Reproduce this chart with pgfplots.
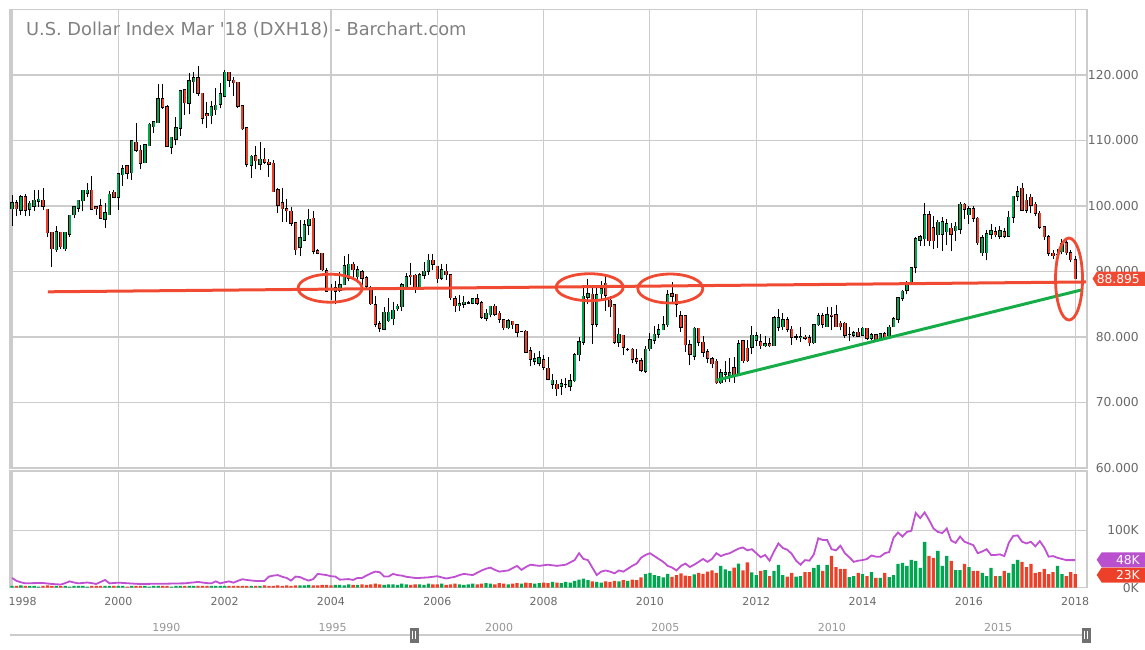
\documentclass[border=0pt]{standalone}
\usepackage{fontspec}
\setmainfont{DejaVu Sans}
\usepackage{pgfplots}
\usepackage{pgfplotstable}
\pgfplotsset{compat=1.18}

\definecolor{gridgray}{RGB}{204,204,204}
\definecolor{upgreen}{RGB}{0,166,80}
\definecolor{dnred}{RGB}{236,64,40}
\definecolor{annred}{RGB}{240,74,50}
\definecolor{anngreen}{RGB}{22,172,72}
\definecolor{avgpurple}{RGB}{192,80,210}
\definecolor{tagpurple}{RGB}{185,80,205}
\definecolor{ticktext}{RGB}{105,105,105}
\definecolor{titlegray}{RGB}{128,128,128}
\definecolor{navtext}{RGB}{150,150,150}
\definecolor{handlegray}{RGB}{112,112,112}

\newcommand\tagfont{\fontsize{12.3}{14}\selectfont}

% navigator handle
\pgfdeclareplotmark{handle}{%
  \pgfsetfillcolor{handlegray}%
  \pgfpathrectangle{\pgfpoint{-4.3pt}{-7.5pt}}{\pgfpoint{8.6pt}{15pt}}%
  \pgfusepath{fill}%
  \pgfsetstrokecolor{white}\pgfsetlinewidth{1pt}%
  \pgfpathmoveto{\pgfpoint{-1.4pt}{-4pt}}\pgfpathlineto{\pgfpoint{-1.4pt}{4pt}}%
  \pgfpathmoveto{\pgfpoint{1.4pt}{-4pt}}\pgfpathlineto{\pgfpoint{1.4pt}{4pt}}%
  \pgfusepath{stroke}%
}

% monthly candles from Jan 1998 (i=0) to Jan 2018 (i=240)
% o h l c, volume v (K), volume average a (K)
\pgfplotstableread{
i o h l c v a
0 99.6 101.7 97.0 100.5 3 17
1 100.5 100.9 98.4 99.6 3 12
2 99.4 101.7 98.6 101.4 4 9.4
3 101.4 101.9 98.4 99.4 3 7.6
4 99.5 100.7 98.5 100.4 3 7.8
5 100.0 102.4 99.3 100.9 3 8
6 100.7 102.4 99.9 101.0 2 8.1
7 100.9 102.8 99.4 100.0 3 8.2
8 99.5 99.5 95.3 95.9 4 7.3
9 96.0 96.0 90.7 93.5 3 6.5
10 93.3 96.9 93.0 96.1 3 6
11 96.0 96.0 93.5 93.8 3 5.5
12 93.5 96.0 93.2 96.0 3 8
13 95.7 98.6 95.3 98.6 2 11
14 98.7 99.9 98.1 99.9 3 9
15 99.7 100.9 99.1 100.9 3 7.6
16 100.8 102.4 99.2 102.4 3 8.3
17 102.0 103.5 101.4 102.4 2 9
18 102.4 104.6 99.4 99.5 3 8
19 99.9 99.9 98.6 99.6 3 6.5
20 100.0 101.0 98.0 98.1 3 10
21 98.0 100.4 96.7 99.0 3 13.5
22 98.7 102.3 98.6 101.8 3 7.6
23 102.1 102.4 101.3 101.3 3 8.2
24 101.3 105.0 99.4 104.9 3 8.8
25 104.8 106.3 103.1 105.7 3 8.3
26 106.1 106.3 104.1 105.0 2 7.8
27 105.1 110.1 104.0 110.0 3 7.3
28 109.7 112.6 108.3 108.5 3 6.8
29 108.5 109.3 105.6 106.5 3 6.5
30 106.6 109.5 106.5 109.3 3 6.6
31 109.2 112.6 109.1 112.5 2 6.7
32 112.1 113.0 111.2 112.9 3 6.8
33 112.7 118.7 112.7 116.4 3 6.9
34 116.4 118.6 114.8 115.1 3 7
35 115.1 115.4 109.1 109.1 3 7
36 109.0 110.5 107.9 110.5 2 7.2
37 110.2 113.6 109.3 111.9 3 7.3
38 111.9 117.7 110.7 117.6 3 7.5
39 117.7 117.8 113.9 115.8 3 7.6
40 115.7 120.3 114.0 119.1 3 8.5
41 119.0 120.4 117.3 119.6 3 9.2
42 119.6 121.3 116.8 117.2 3 10
43 117.2 117.2 112.5 113.4 3 9
44 114.1 115.9 111.9 113.8 3 8
45 113.8 116.1 112.5 115.1 3 7.6
46 114.7 118.0 113.9 115.4 3 11
47 115.5 118.8 114.9 117.1 3 7.6
48 116.8 120.8 116.7 120.4 3 9.5
49 120.4 120.5 118.2 119.2 3 11
50 119.2 119.7 116.8 118.8 3 8.8
51 118.9 119.0 114.9 115.2 3 12
52 115.3 115.4 111.6 111.8 3 14.7
53 111.9 111.9 106.0 106.4 3 13.5
54 106.2 107.8 104.2 107.6 3 12.5
55 107.7 109.2 105.6 106.9 3 11.8
56 106.4 109.8 105.5 107.1 3 11.8
57 107.1 108.8 106.4 106.7 4 11.8
58 106.7 107.1 104.5 106.4 3 19.4
59 106.5 107.0 102.2 102.2 3 21
60 102.5 102.7 99.0 100.1 4 22
61 100.5 102.7 97.6 99.6 3 19
62 99.6 101.0 97.6 99.3 4 17
63 99.2 99.8 97.0 97.4 3 12.4
64 97.4 97.4 92.5 93.3 4 19.4
65 93.7 97.9 92.3 95.1 4 18.5
66 94.8 97.9 94.6 97.1 4 15
67 97.1 99.5 95.6 98.0 5 12.4
68 98.1 99.3 92.6 93.1 4 15
69 93.2 93.5 92.6 92.8 4 24
70 92.8 92.8 90.1 90.3 5 23
71 90.1 90.6 86.9 87.0 5 22
72 87.4 88.1 85.6 87.2 4 20
73 87.0 88.5 85.0 87.5 5 19.4
74 87.1 90.0 86.8 88.0 5 14
75 88.0 92.3 87.9 90.9 4 14.5
76 89.0 92.6 88.5 91.1 6 15
77 91.1 91.5 89.0 90.3 5 13.5
78 89.2 90.8 88.2 90.3 5 17
79 90.0 90.3 88.0 89.0 6 17
80 89.0 89.3 87.5 87.8 5 21
81 87.6 87.8 84.9 85.1 6 25
82 84.9 86.3 81.5 82.0 7 28
83 82.0 82.4 80.8 81.3 6 27
84 81.2 84.6 81.0 83.8 5 19.4
85 82.5 86.0 82.3 83.8 6 19.4
86 82.8 85.3 81.8 84.1 6 24
87 84.3 85.0 84.0 84.7 5 22
88 84.6 88.3 84.0 88.0 7 21
89 87.6 89.7 87.3 89.2 6 19
90 89.4 91.3 88.0 89.2 5 18
91 89.4 89.6 86.7 87.6 6 17
92 87.7 89.8 87.3 89.5 6 17
93 89.4 91.5 88.9 90.05 5 17.5
94 90.05 92.6 89.5 91.7 7 18
95 91.7 92.6 90.2 91.1 6 19
96 90.8 90.9 88.3 88.9 6 20
97 89.0 91.2 88.7 90.3 7 18
98 90.05 91.2 88.7 89.5 5 16
99 89.5 89.5 85.7 86.0 6 17.5
100 85.8 86.2 83.8 84.8 7 19
101 84.8 86.4 84.0 85.1 6 22
102 85.0 86.3 84.5 85.3 5 24
103 85.2 85.5 85.0 85.2 6 23
104 85.2 86.0 85.0 85.8 7 22
105 85.8 86.5 84.9 85.2 6 26
106 85.2 85.5 82.8 83.0 7 30
107 82.9 84.2 82.5 83.6 8 33
108 83.4 84.8 83.0 84.7 7 35
109 84.7 85.0 83.2 83.5 6 31
110 83.6 84.0 82.2 82.7 8 28
111 82.6 82.7 81.0 81.4 7 29
112 81.4 82.8 81.2 82.5 6 30
113 82.4 82.5 81.2 81.9 7 34
114 81.9 81.9 80.0 80.7 8 38
115 80.9 80.9 80.8 80.9 7 31
116 80.9 81.0 77.5 77.7 9 36
117 77.9 78.5 75.5 76.6 8 40
118 76.3 77.6 75.7 76.7 7 39
119 76.0 77.9 75.5 76.8 8 38
120 76.5 77.3 75.0 75.4 9 39
121 75.2 77.0 73.4 73.6 8 40
122 72.8 74.3 72.1 73.4 10 39
123 72.8 73.5 71.0 72.1 9 38
124 72.5 73.6 71.2 72.9 8 39
125 72.8 73.8 72.2 72.8 10 40
126 72.5 74.3 71.8 73.3 9 44
127 73.3 77.6 73.2 77.3 12 48
128 77.3 80.0 76.3 79.3 14 60
129 79.2 87.8 78.8 86.2 16 50
130 86.1 88.8 85.0 86.6 13 48
131 86.5 87.8 79.0 82.0 11 35
132 82.0 87.8 81.5 86.4 10 22
133 86.6 88.6 85.6 87.4 9 28
134 88.2 89.3 84.0 86.4 11 30
135 85.6 86.3 83.0 84.6 10 28
136 84.9 85.1 78.9 79.2 12 25
137 79.2 81.3 78.5 80.4 11 30
138 80.25 80.3 77.2 78.4 13 28
139 78.1 78.3 77.8 78.1 12 33
140 78.1 78.3 76.0 76.6 14 38
141 76.7 78.1 75.9 76.3 13 42
142 76.4 76.8 74.6 74.9 18 52
143 74.8 78.7 74.5 78.1 24 57
144 78.2 80.6 77.9 79.6 26 60
145 79.5 81.7 79.0 80.4 22 55
146 80.4 82.0 79.8 81.1 20 50
147 81.1 83.2 81.0 81.9 18 45
148 81.9 87.1 81.5 86.4 24 38
149 86.6 88.4 85.4 86.2 19 35
150 86.5 86.6 83.0 85.0 22 30
151 83.2 84.0 80.8 81.5 25 38
152 83.2 83.3 77.7 78.8 21 42
153 78.8 79.6 75.8 77.35 20 36
154 77.05 81.5 76.5 81.3 23 40
155 81.3 81.4 78.6 79.2 26 45
156 79.2 80.1 77.0 77.7 24 50
157 77.7 78.1 76.1 76.8 28 45
158 76.7 77.0 75.2 75.9 30 50
159 76.3 76.6 72.8 73.0 26 60
160 73.0 75.1 72.8 74.5 38 55
161 74.3 76.4 73.1 74.55 32 58
162 74.15 76.8 73.2 74.5 29 60
163 75.3 76.9 73.0 74.0 35 64
164 74.3 79.6 74.0 79.0 42 68
165 79.4 79.6 76.0 76.4 30 70
166 78.3 79.5 76.2 76.4 44 65
167 78.4 81.7 77.4 80.25 26.7 67
168 79.5 80.8 78.6 80.2 22.1 60
169 79.3 80.4 78.2 78.7 29.1 53
170 78.7 80.2 78.5 79.0 30.8 57
171 79.0 79.9 78.4 78.7 20.3 47
172 78.7 83.2 78.6 82.95 29.1 63
173 81.5 84.2 80.9 82.95 39.5 77
174 81.6 83.6 81.0 82.6 22.1 69
175 82.6 83.0 80.7 81.2 19.2 66
176 81.2 81.7 78.8 80.0 25.6 59
177 80.0 80.5 79.5 80.0 19.2 47
178 79.95 81.5 79.3 80.05 20.3 40
179 79.95 80.3 79.5 79.85 27.3 48
180 79.9 80.3 78.6 79.1 27.3 47
181 79.1 82.0 78.9 81.9 34.3 58
182 81.9 83.6 81.7 83.2 39.5 86
183 83.2 83.6 81.4 82.0 29.1 83
184 81.6 84.6 81.6 83.4 39.5 83
185 83.3 84.6 81.0 83.2 55.2 67
186 83.4 84.9 81.5 81.6 36.0 65
187 82.1 82.5 81.0 81.6 32.6 73
188 82.1 82.3 79.9 80.3 32.6 60
189 80.4 81.5 79.4 80.4 18.6 53
190 80.25 80.9 80.0 80.65 20.3 45
191 80.7 81.3 80.0 80.15 25.6 47
192 80.3 81.5 80.1 81.3 23.8 48
193 81.3 81.4 79.6 79.8 20.3 50
194 79.8 80.6 79.5 80.35 27.3 56
195 80.35 80.5 79.3 79.6 16.9 54
196 79.8 80.6 79.5 80.5 16.9 54
197 80.5 80.8 79.6 79.8 25.6 60
198 80.2 81.8 80.1 81.5 18.6 62
199 81.6 83.0 81.5 82.75 22.1 87
200 82.75 86.1 82.2 86.0 41.3 96
201 85.9 87.1 85.5 87.0 43.0 89
202 87.1 88.6 86.5 88.2 37.8 97
203 88.2 90.7 88.2 90.6 48.3 99
204 90.7 95.3 89.7 95.0 46.5 130
205 94.8 95.6 93.9 95.3 34.3 121
206 95.0 100.5 93.9 98.7 79.7 131
207 98.7 99.3 93.9 94.7 55.2 118
208 96.7 98.4 93.4 94.7 51.7 103
209 95.6 97.9 93.6 97.5 64.0 97
210 95.7 98.3 93.2 97.6 37.8 95
211 96.1 98.0 94.1 97.25 55.2 103
212 96.6 97.4 93.1 95.7 46.5 82
213 96.2 97.6 94.7 96.9 30.8 78
214 96.5 100.6 95.8 100.25 30.8 89
215 100.25 100.4 98.0 99.5 41.3 80
216 98.7 100.0 97.3 99.6 36.0 77
217 99.6 100.0 97.6 98.1 29.1 74
218 98.1 98.3 94.1 94.4 29.1 60
219 92.9 95.6 92.4 95.1 25.6 63
220 92.9 96.4 91.7 95.8 20.3 67
221 95.7 97.3 95.0 96.2 34.3 57
222 96.1 96.8 95.2 95.6 20.3 57
223 95.4 96.9 95.0 96.2 20.3 58
224 96.1 96.6 95.1 95.4 29.1 55
225 95.4 99.2 95.3 98.3 25.6 78
226 98.3 101.6 97.4 101.5 41.3 90
227 101.5 103.0 100.8 102.2 48.3 91
228 102.7 103.5 99.2 99.4 44.8 80
229 100.9 101.8 99.0 99.4 36.0 77
230 101.3 101.8 98.9 100.1 41.3 80
231 100.25 100.6 98.4 98.9 25.6 72
232 98.9 99.2 96.5 96.8 27.3 81
233 96.8 97.0 94.8 95.3 32.6 70
234 95.3 95.5 92.4 92.8 23.8 54
235 92.8 93.3 91.9 92.4 27.3 55
236 92.6 93.5 91.9 92.6 37.8 52
237 93.0 94.9 92.6 94.3 23.8 50
238 94.4 95.0 92.5 92.9 20.3 48
239 92.9 93.3 91.4 91.8 27.3 48
240 91.8 92.3 88.8 88.895 23.8 48
}\dxdata

\pgfplotsset{
  pane/.style={
    scale only axis, width=1077pt,
    xmin=-0.45, xmax=242.66,
    axis line style={draw=gridgray, line width=1.1pt},
    grid=major, major grid style={draw=gridgray, line width=1.1pt},
    major tick length=0pt,
    yticklabel pos=right,
    yticklabel style={anchor=east, inner sep=0pt, xshift=52pt,
      font=\fontsize{12.3}{14}\selectfont, text=ticktext},
  },
  up/.style={restrict expr to domain={\thisrow{c}-\thisrow{o}}{0:100}},
  down/.style={restrict expr to domain={\thisrow{o}-\thisrow{c}}{0.0001:100}},
  nomark/.style={only marks, mark=*, mark size=0pt,
    mark options={draw=none, fill=none}, forget plot},
}

\begin{document}
\begin{tikzpicture}

% price pane
\begin{axis}[pane,
  at={(10pt,-468pt)}, anchor=south west, height=458.5pt,
  ymin=60, ymax=130,
  xtick={0,24,...,240}, xticklabels={},
  ytick={60,70,...,120},
  /pgf/number format/.cd, fixed, fixed zerofill, precision=3, assume math mode=true,
]
% wicks
\addplot[nomark,
  error bars/.cd, y dir=plus, y explicit, error mark=none,
  error bar style={line width=0.9pt, black}]
  table[x=i, y=l, y error expr={\thisrow{h}-\thisrow{l}}] {\dxdata};
% body outlines
\addplot[nomark,
  error bars/.cd, y dir=plus, y explicit, error mark=none,
  error bar style={line width=3.4pt, black, shorten <=-0.6pt, shorten >=-0.6pt}]
  table[x=i, y expr={min(\thisrow{o},\thisrow{c})}, y error expr={abs(\thisrow{c}-\thisrow{o})}] {\dxdata};
% up bodies
\addplot[nomark, up,
  error bars/.cd, y dir=plus, y explicit, error mark=none,
  error bar style={line width=2pt, upgreen}]
  table[x=i, y expr={min(\thisrow{o},\thisrow{c})}, y error expr={abs(\thisrow{c}-\thisrow{o})}] {\dxdata};
% down bodies
\addplot[nomark, down,
  error bars/.cd, y dir=plus, y explicit, error mark=none,
  error bar style={line width=2pt, dnred}]
  table[x=i, y expr={min(\thisrow{o},\thisrow{c})}, y error expr={abs(\thisrow{c}-\thisrow{o})}] {\dxdata};

% drawn annotations
\addplot[annred, line width=3pt] coordinates {(8.1,86.9) (242.4,88.4)};
\addplot[anngreen, line width=3pt] coordinates {(159.0,73.4) (241.5,87.2)};
\draw[annred, line width=2.8pt] (axis cs:71.8,87.45) ellipse [x radius=32pt, y radius=14pt];
\draw[annred, line width=2.8pt] (axis cs:130.4,87.6) ellipse [x radius=33.5pt, y radius=13.5pt];
\draw[annred, line width=2.8pt] (axis cs:148.6,87.4) ellipse [x radius=32.5pt, y radius=14.5pt];
\draw[annred, line width=2.8pt] (axis cs:238.6,88.85) ellipse [x radius=13.5pt, y radius=41pt];

\coordinate (lastp) at (axis cs:242.66,88.895);
\end{axis}

% volume pane
\begin{axis}[pane,
  at={(10pt,-587.7pt)}, anchor=south west, height=116.7pt,
  ymin=0, ymax=203,
  ytick={0,100}, yticklabels={0K,100K},
  xtick={24,48,...,240},
  xticklabels={2000,2002,2004,2006,2008,2010,2012,2014,2016,2018},
  extra x ticks={0}, extra x tick labels={1998},
  extra x tick style={grid=major, xticklabel style={xshift=10.7pt}},
  xticklabel style={font=\fontsize{11}{13}\selectfont, text=ticktext,
    inner sep=0pt, yshift=-9.5pt},
]
\addplot[ybar, bar width=3.3pt, bar shift=0pt, draw=none, fill=upgreen, up]
  table[x=i, y=v] {\dxdata};
\addplot[ybar, bar width=3.3pt, bar shift=0pt, draw=none, fill=dnred, down]
  table[x=i, y=v] {\dxdata};
\addplot[avgpurple, line width=1.8pt, mark=none] table[x=i, y=a] {\dxdata};
\coordinate (avgp) at (axis cs:242.66,48.6);
\coordinate (volp) at (axis cs:242.66,22.1);
\end{axis}

% navigator
\begin{axis}[
  at={(10pt,-635pt)}, anchor=north west,
  scale only axis, width=1077pt, height=5pt,
  xmin=1985.3, xmax=2017.67, ymin=0, ymax=1,
  axis x line=top, axis y line=none,
  x axis line style={-, draw=gridgray, line width=1.1pt},
  xtick={1990,1995,2000,2005,2010,2015},
  major tick length=0pt,
  xticklabel style={font=\fontsize{11}{13}\selectfont, text=navtext},
  /pgf/number format/.cd, 1000 sep={}, assume math mode=true,
  /pgfplots/.cd, clip=false,
]
\addplot[only marks, mark=handle] coordinates {(1997.45,1) (2017.65,1)};
\end{axis}

% last-value tags
\fill[annred] ([xshift=5.5pt]lastp) -- ++(4.5pt,7.2pt) -- ++(50pt,0pt) -- ++(0pt,-14.4pt) -- ++(-50pt,0pt) -- cycle;
\node[anchor=east, inner sep=0pt, text=white, font=\tagfont] at ([xshift=53pt]lastp) {88.895};
\fill[tagpurple] ([xshift=9.7pt]avgp) -- ++(5pt,7.5pt) -- ++(46pt,0pt) -- ++(0pt,-15pt) -- ++(-46pt,0pt) -- cycle;
\node[anchor=east, inner sep=0pt, text=white, font=\tagfont] at ([xshift=53pt]avgp) {48K};
\fill[dnred] ([xshift=9.7pt]volp) -- ++(5pt,7.5pt) -- ++(46pt,0pt) -- ++(0pt,-15pt) -- ++(-46pt,0pt) -- cycle;
\node[anchor=east, inner sep=0pt, text=white, font=\tagfont] at ([xshift=53pt]volp) {23K};

% title
\node[anchor=base west, inner sep=0pt, text=titlegray, font=\fontsize{17.8}{20}\selectfont]
  at (26pt,-36pt) {U.S. Dollar Index Mar \textquotesingle18 (DXH18) - Barchart.com};

\pgfresetboundingbox
\path (0pt,0pt) rectangle (1145pt,-650pt);
\end{tikzpicture}
\end{document}
